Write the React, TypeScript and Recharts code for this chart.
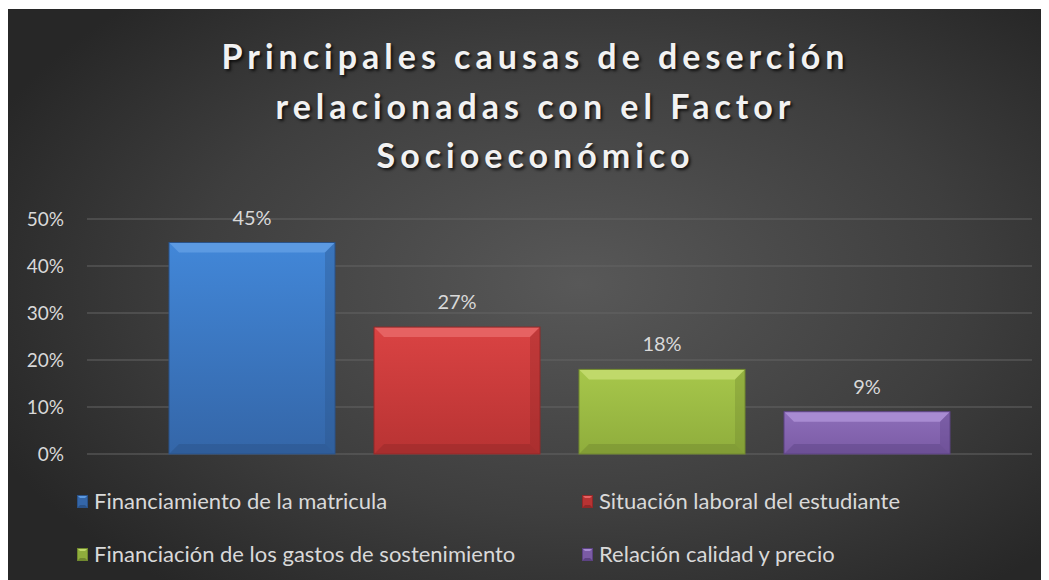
import { BarChart, Bar, XAxis, YAxis, CartesianGrid, Legend, LabelList } from 'recharts';

const CATEGORY = ['Factor Socioeconómico'];
const SERIES_KEYS = ['matricula', 'laboral', 'gastos', 'calidad'];
const SERIES_NAMES = [
  'Financiamiento de la matricula',
  'Situación laboral del estudiante',
  'Financiación de los gastos de sostenimiento',
  'Relación calidad y precio',
];
const SERIES_VALUES = [0.45, 0.27, 0.18, 0.09];
const Y_TICKS = [0, 0.1, 0.2, 0.3, 0.4, 0.5];

const TITLE_LINES = ['Principales causas de deserción', 'relacionadas con el Factor', 'Socioeconómico'];

// bevel palette per series: top bevel, gradient top, gradient bottom, shadow edge
const PALETTE: Record<string, { hi: string; top: string; bottom: string; low: string }> = {
  matricula: { hi: '#5c9ae2', top: '#4287d8', bottom: '#3466a8', low: '#2a5288' },
  laboral: { hi: '#e66262', top: '#da4343', bottom: '#b83333', low: '#922828' },
  gastos: { hi: '#c0d96a', top: '#a7c74b', bottom: '#8fad3c', low: '#70882e' },
  calidad: { hi: '#a88bd2', top: '#8d6eba', bottom: '#7b5ba5', low: '#5c4283' },
};

const data = CATEGORY.map(name => {
  const row: Record<string, string | number> = { name };
  SERIES_KEYS.forEach((k, i) => {
    row[k] = SERIES_VALUES[i];
  });
  return row;
});

const pct = (v: number) => `${Math.round(v * 100)}%`;

function BevelBar(props: any) {
  const { x, y, width: w, height: h, seriesKey } = props;
  if (!h || h <= 0) return null;
  const c = PALETTE[seriesKey];
  const b = Math.min(10, h / 3, w / 3);
  return (
    <g>
      <rect x={x} y={y} width={w} height={h} fill={`url(#grad-${seriesKey})`} />
      <polygon points={`${x},${y} ${x + w},${y} ${x + w - b},${y + b} ${x + b},${y + b}`} fill={c.hi} />
      <polygon points={`${x + w},${y} ${x + w - b},${y + b} ${x + w - b},${y + h - b} ${x + w},${y + h}`} fill={c.low} opacity={0.35} />
      <polygon points={`${x},${y + h} ${x + b},${y + h - b} ${x + w - b},${y + h - b} ${x + w},${y + h}`} fill={c.low} opacity={0.45} />
      <rect x={x} y={y} width={w} height={h} fill="none" stroke={c.low} strokeWidth={1} />
    </g>
  );
}

function LegendMarker({ seriesKey }: { seriesKey: string }) {
  const c = PALETTE[seriesKey];
  return (
    <svg width={11} height={13} style={{ marginRight: 6, flexShrink: 0 }}>
      <rect x={0} y={0} width={11} height={13} fill={c.bottom} />
      <polygon points="0,0 11,0 8,3 3,3" fill={c.hi} />
      <polygon points="0,13 3,10 8,10 11,13" fill={c.low} />
      <rect x={0.5} y={0.5} width={10} height={12} fill="none" stroke={c.low} />
    </svg>
  );
}

function LegendBox({ payload }: any) {
  const items = [...((payload ?? []) as any[])].sort(
    (a, b) => SERIES_KEYS.indexOf(a.dataKey) - SERIES_KEYS.indexOf(b.dataKey),
  );
  return (
    <div style={{ position: 'relative', width: 1041, height: 90 }}>
      {items.map((it, i) => (
        <div
          key={it.dataKey}
          style={{
            position: 'absolute',
            left: i % 2 === 0 ? 70 : 575,
            top: Math.floor(i / 2) * 53,
            display: 'flex',
            alignItems: 'center',
            height: 24,
            lineHeight: '24px',
            fontSize: 22,
            color: '#d9d9d9',
            whiteSpace: 'nowrap',
          }}
        >
          <LegendMarker seriesKey={it.dataKey} />
          <span>{it.value}</span>
        </div>
      ))}
    </div>
  );
}

export default function App() {
  return (
    <div
      style={{
        position: 'relative',
        width: 1041,
        height: 572,
        marginLeft: -1,
        marginTop: 1,
        fontFamily: 'Lato, "Open Sans", sans-serif',
        background: 'radial-gradient(ellipse 62% 68% at 55% 48%, #585858 0%, #3e3e3e 60%, #272727 100%)',
        overflow: 'hidden',
      }}
    >
      <div
        style={{
          position: 'absolute',
          left: 8,
          top: 22,
          width: 1041,
          textAlign: 'center',
          fontSize: 34,
          lineHeight: '49.5px',
          fontWeight: 700,
          letterSpacing: 5,
          color: '#f2f2f2',
          textShadow: '2px 2px 3px rgba(0,0,0,0.75)',
        }}
      >
        {TITLE_LINES.map(t => (
          <div key={t}>{t}</div>
        ))}
      </div>
      <BarChart
        width={1041}
        height={572}
        data={data}
        margin={{ top: 210, right: 16, left: 0, bottom: 127 }}
        barSize={166}
        barGap={39}
        style={{ position: 'absolute', left: 0, top: 0 }}
      >
        <defs>
          {SERIES_KEYS.map(k => (
            <linearGradient key={k} id={`grad-${k}`} x1="0" y1="0" x2="0" y2="1">
              <stop offset="0%" stopColor={PALETTE[k].top} />
              <stop offset="100%" stopColor={PALETTE[k].bottom} />
            </linearGradient>
          ))}
        </defs>
        <CartesianGrid vertical={false} stroke="#646464" strokeWidth={1.2} />
        <XAxis dataKey="name" hide />
        <YAxis
          width={80}
          domain={[0, 0.5]}
          ticks={Y_TICKS}
          tickFormatter={pct}
          axisLine={false}
          tickLine={false}
          tickSize={0}
          tickMargin={23}
          tick={{ fill: '#d9d9d9', fontSize: 19 }}
        />
        <Legend
          layout="horizontal"
          verticalAlign="middle"
          align="center"
          content={LegendBox}
          wrapperStyle={{ left: 0, top: 480, width: 1041, height: 90 }}
        />
        {SERIES_KEYS.map((k, i) => (
          <Bar
            key={k}
            dataKey={k}
            name={SERIES_NAMES[i]}
            fill={PALETTE[k].top}
            isAnimationActive={false}
            shape={(p: any) => <BevelBar {...p} seriesKey={k} />}
          >
            <LabelList dataKey={k} position="top" offset={18} formatter={(v: any) => pct(Number(v))} fill="#d9d9d9" fontSize={20} />
          </Bar>
        ))}
      </BarChart>
    </div>
  );
}
